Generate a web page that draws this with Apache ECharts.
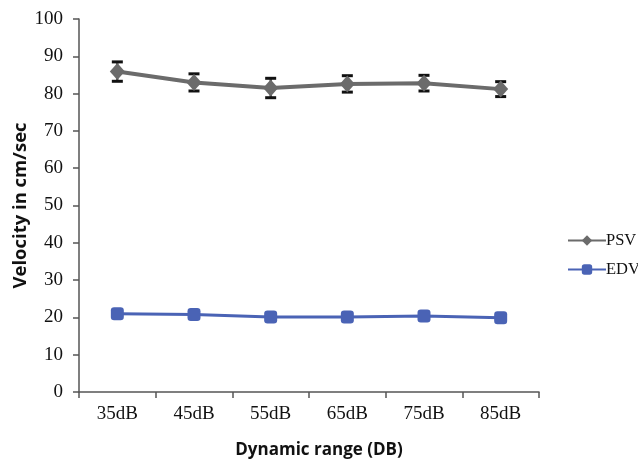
<!DOCTYPE html>
<html><head><meta charset="utf-8">
<script src="https://cdn.jsdelivr.net/npm/echarts@6/dist/echarts.min.js"></script>
<style>html,body{margin:0;padding:0;background:#fff}#c{width:638px;height:468px}</style>
</head><body><div id="c"></div>
<script>
const categories = ['35dB','45dB','55dB','65dB','75dB','85dB'];
const psv = [85.9, 83.0, 81.5, 82.6, 82.8, 81.2];
const psvErr = [2.6, 2.3, 2.6, 2.2, 2.1, 2.0];
const edv = [21.0, 20.8, 20.1, 20.1, 20.4, 19.9];
const yTicks = [0,10,20,30,40,50,60,70,80,90,100];

const chart = echarts.init(document.getElementById('c'));
const errData = psv.map((v,i)=>[i, v-psvErr[i], v+psvErr[i]]);
chart.setOption({
  animation:false,
  grid:{left:79,right:99,top:19,bottom:76,containLabel:false,outerBoundsMode:'none'},
  legend:{
    orient:'vertical', left:562, top:227, itemGap:12, itemWidth:38, itemHeight:13,
    data:['PSV','EDV'],
    textStyle:{fontFamily:'Liberation Serif',fontSize:16.5,color:'#111',padding:[0,0,0,-5]}
  },
  xAxis:{
    type:'category', data:categories, boundaryGap:true,
    axisLine:{lineStyle:{color:'#555',width:1.5}},
    axisTick:{show:true,length:6,lineStyle:{color:'#555',width:1.5},alignWithLabel:false},
    axisLabel:{fontFamily:'Liberation Serif',fontSize:19,color:'#111',margin:13},
    name:'Dynamic range (DB)', nameLocation:'middle', nameGap:50,
    nameTextStyle:{fontFamily:'Open Sans',fontWeight:'bold',fontSize:17,color:'#111',padding:[0,0,0,20]}
  },
  yAxis:{
    type:'value', min:0, max:100, interval:10,
    axisLine:{show:true,lineStyle:{color:'#555',width:1.5}},
    axisTick:{show:true,length:6,inside:false,lineStyle:{color:'#555',width:1.5}},
    splitLine:{show:false},
    axisLabel:{fontFamily:'Liberation Serif',fontSize:19,color:'#111',margin:16,
      formatter:v=>yTicks.includes(v)?String(v):''},
    name:'Velocity in cm/sec', nameLocation:'middle', nameGap:49, nameRotate:90,
    nameMoveOverlap:false,
    nameTextStyle:{fontFamily:'Open Sans',fontWeight:'bold',fontSize:18.5,color:'#111'}
  },
  series:[
    {
      type:'custom', name:'err', z:1, silent:true,
      data:errData,
      renderItem:function(params,api){
        const x = api.coord([api.value(0), api.value(1)])[0];
        const lo = api.coord([api.value(0), api.value(1)])[1];
        const hi = api.coord([api.value(0), api.value(2)])[1];
        const w = 5.5;
        const st = {stroke:'#111',lineWidth:3};
        return {type:'group',children:[
          {type:'line',shape:{x1:x,y1:lo,x2:x,y2:hi},style:{stroke:'#111',lineWidth:2}},
          {type:'line',shape:{x1:x-w,y1:lo,x2:x+w,y2:lo},style:st},
          {type:'line',shape:{x1:x-w,y1:hi,x2:x+w,y2:hi},style:st}
        ]};
      }
    },
    {
      type:'line', name:'PSV', data:psv, z:3,
      symbol:'diamond', symbolSize:[15,17],
      lineStyle:{color:'#6b6b6b',width:4},
      itemStyle:{color:'#6b6b6b'}
    },
    {
      type:'line', name:'EDV', data:edv, z:3,
      symbol:'roundRect', symbolSize:13,
      lineStyle:{color:'#4a63b5',width:3},
      itemStyle:{color:'#4a63b5'}
    }
  ]
});
</script></body></html>
